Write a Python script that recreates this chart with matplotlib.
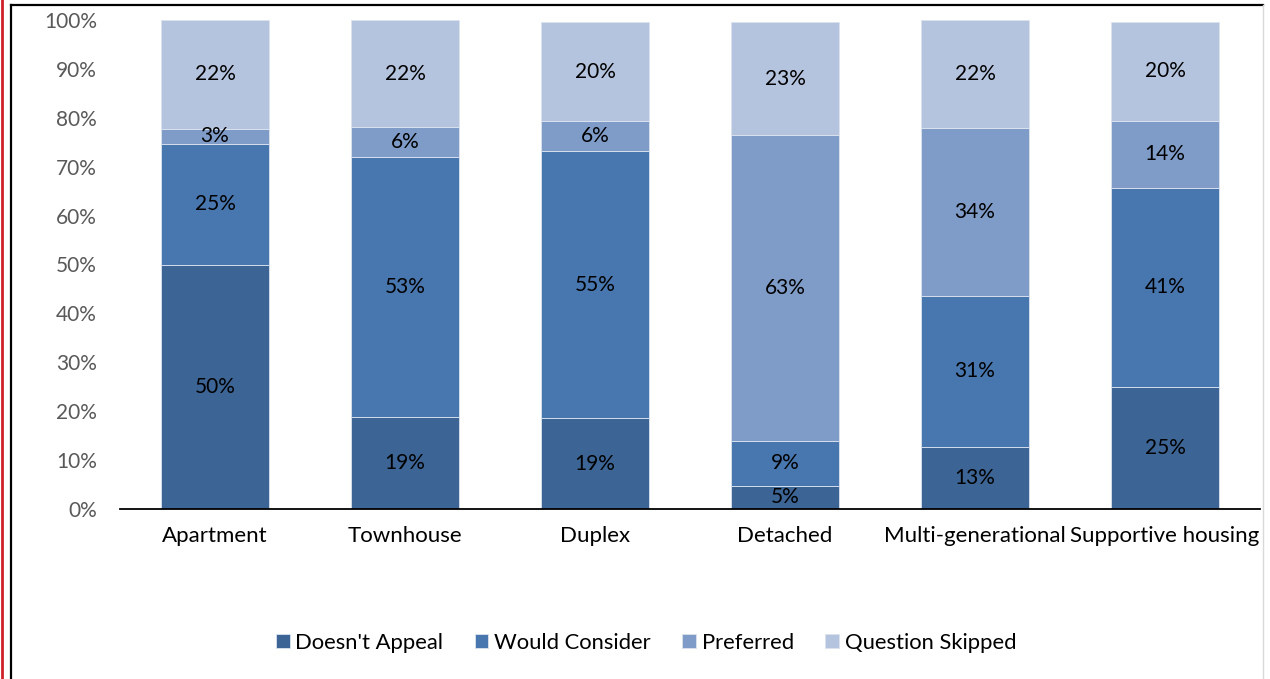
import matplotlib
matplotlib.use("Agg")
import matplotlib.pyplot as plt
from matplotlib.lines import Line2D
from matplotlib.ticker import PercentFormatter
import numpy as np

plt.rcParams['font.family'] = ['Lato', 'DejaVu Sans']

categories = ["Apartment", "Townhouse", "Duplex", "Detached",
              "Multi-generational", "Supportive housing"]
series = ["Doesn't Appeal", "Would Consider", "Preferred", "Question Skipped"]

doesnt_appeal   = [50.0, 18.8, 18.6, 4.8, 12.7, 25.0]
would_consider  = [24.7, 53.2, 54.6, 9.1, 30.9, 40.6]
preferred       = [3.1, 6.1, 6.1, 62.6, 34.3, 13.8]
question_skip   = [22.2, 21.9, 20.3, 23.0, 22.1, 20.2]

colors = ["#3C6595", "#4877AF", "#7F9CC8", "#B5C4DE"]

fig = plt.figure(figsize=(12.7, 6.79), dpi=100)
ax = fig.add_axes([120/1270, 1 - 509/679, 1140/1270, 489/679])

x = np.arange(len(categories))
bottom = np.zeros(len(categories))
for name, vals, col in zip(series, [doesnt_appeal, would_consider, preferred, question_skip], colors):
    vals = np.array(vals)
    ax.bar(x, vals, 0.57, bottom=bottom, color=col, label=name,
           edgecolor="#DCE3EF", linewidth=0.6)
    for xi, b, v in zip(x, bottom, vals):
        ax.text(xi, b + v / 2, f"{round(v):.0f}%", ha="center", va="center",
                fontsize=15, color="black")
    bottom += vals

ax.set_xlim(-0.5, len(categories) - 0.5)
ax.set_ylim(0, 100)
ax.set_yticks(np.arange(0, 101, 10))
ax.yaxis.set_major_formatter(PercentFormatter(decimals=0))
ax.tick_params(axis="y", length=0, labelsize=15, labelcolor="#595959", pad=16.5)
ax.tick_params(axis="x", length=0, labelsize=16, pad=12)
ax.set_xticks(x)
ax.set_xticklabels(categories)
for s in ["top", "right", "left"]:
    ax.spines[s].set_visible(False)
ax.spines["bottom"].set_color("black")
ax.spines["bottom"].set_linewidth(1.3)

ax.legend(loc="center", bbox_to_anchor=((646 - 120) / 1140, (679 - 643 - 170) / 489),
          ncol=4, frameon=False, fontsize=15.8, handlelength=0.62,
          handleheight=0.62, handletextpad=0.25, columnspacing=1.45)

# outer frame lines of the original screenshot
def fline(x0, y0, x1, y1, color, lw):
    fig.add_artist(Line2D([x0 / 1270, x1 / 1270], [1 - y0 / 679, 1 - y1 / 679],
                          transform=fig.transFigure, color=color, linewidth=lw))

fline(2, 0, 2, 679, "#D0202A", 2.0)
fline(11, 5, 11, 679, "black", 1.6)
fline(11, 5, 1263, 5, "black", 1.6)
fline(1263, 5, 1263, 679, "#D9D9D9", 1.0)

fig.savefig("out.png", dpi=100)
